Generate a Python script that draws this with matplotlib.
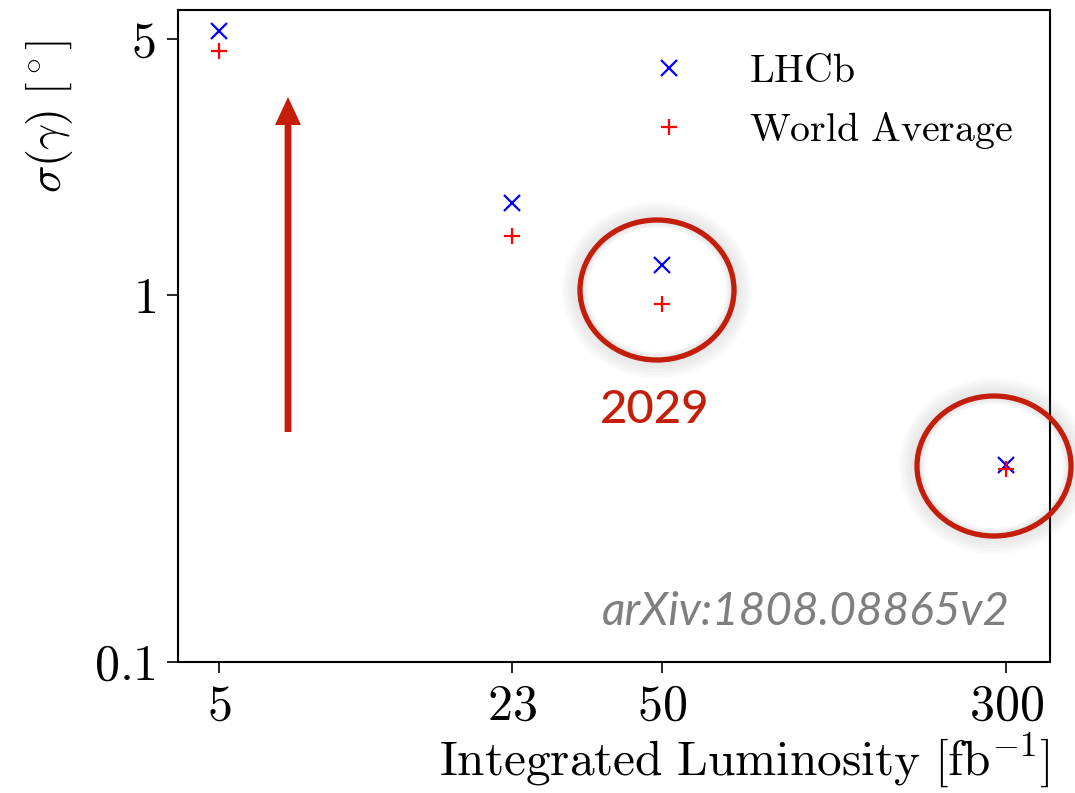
import matplotlib
matplotlib.use("Agg")
import matplotlib.pyplot as plt
from matplotlib.patches import Ellipse, FancyArrow
from matplotlib.ticker import FixedLocator, FixedFormatter, NullLocator

plt.rcParams['mathtext.fontset'] = 'cm'
plt.rcParams['font.family'] = 'serif'
plt.rcParams['font.serif'] = ['cmr10', 'DejaVu Serif']
plt.rcParams['axes.unicode_minus'] = False

# data
lumi = [5, 23, 50, 300]
sigma_lhcb = [5.24, 1.78, 1.21, 0.344]
sigma_wa = [4.62, 1.45, 0.945, 0.336]
x_ticks = [5, 23, 50, 300]
x_ticklabels = ['$5$', '$23$', '$50$', '$300$']
y_ticks = [0.1, 1, 5]
y_ticklabels = ['$0.1$', '$1$', '$5$']

red = '#c41e0b'

fig = plt.figure(figsize=(10.75, 7.93), dpi=100)
ax = fig.add_axes([0.1656, 0.1652, 0.8111, 0.8222])

ax.plot(lumi, sigma_lhcb, 'x', color='blue', markersize=12, mew=1.6, label=r'$\mathrm{LHCb}$')
ax.plot(lumi, sigma_wa, '+', color='red', markersize=12, mew=1.6, label=r'$\mathrm{World\ Average}$')

ax.set_xscale('log')
ax.set_yscale('log')
ax.set_xlim(4.04, 377)
ax.set_ylim(0.1, 5.98)

ax.xaxis.set_major_locator(FixedLocator(x_ticks))
ax.xaxis.set_major_formatter(FixedFormatter(x_ticklabels))
ax.xaxis.set_minor_locator(NullLocator())
ax.yaxis.set_major_locator(FixedLocator(y_ticks))
ax.yaxis.set_major_formatter(FixedFormatter(y_ticklabels))
ax.yaxis.set_minor_locator(NullLocator())
ax.tick_params(labelsize=36, length=8, width=1.2, pad=8)
for s in ax.spines.values():
    s.set_linewidth(1.5)

ax.set_xlabel(r'$\mathrm{Integrated\ Luminosity\ [fb^{-1}]}$', fontsize=35.5, loc='right', labelpad=0)
ax.set_ylabel(r'$\sigma(\gamma)\ [^\circ]$', fontsize=33, loc='top')
ax.yaxis.set_label_coords(-0.118, 0.955)

ax.legend(loc='upper right', bbox_to_anchor=(1.0034, 0.9939), frameon=False,
          fontsize=28.7, handlelength=2.0, handletextpad=1.0,
          borderaxespad=0.6, labelspacing=0.5)

# annotations on top of the plot (figure pixel coords)
W, H = 1075, 793
def fx(p):
    return p / W
def fy(p):
    return 1 - p / H

for cx, cy in [(657, 290), (994, 466)]:
    for k in range(6):
        glow = Ellipse((fx(cx), fy(cy)), (154 + 2 * k) / W, (140 + 2 * k) / H,
                       transform=fig.transFigure, fill=False,
                       edgecolor='gray', lw=4 + 3 * k, alpha=0.035)
        fig.add_artist(glow)
    ring = Ellipse((fx(cx), fy(cy)), 154 / W, 140 / H, transform=fig.transFigure,
                   fill=False, edgecolor=red, lw=3.8)
    fig.add_artist(ring)

arrow = FancyArrow(fx(288), fy(432), 0, (432 - 97) / H, width=5 / H,
                   head_width=26 / W, head_length=28 / H,
                   length_includes_head=True, transform=fig.transFigure,
                   color=red, lw=0)
fig.add_artist(arrow)

fig.text(fx(655), fy(410), '2029', color=red, fontsize=34, family='Lato',
         weight='medium', ha='center', va='center')
fig.text(fx(1010), fy(612), 'arXiv:1808.08865v2', color='#7f7f7f', fontsize=33,
         family='Lato', style='italic', ha='right', va='center')

fig.savefig('out.png', dpi=100)
